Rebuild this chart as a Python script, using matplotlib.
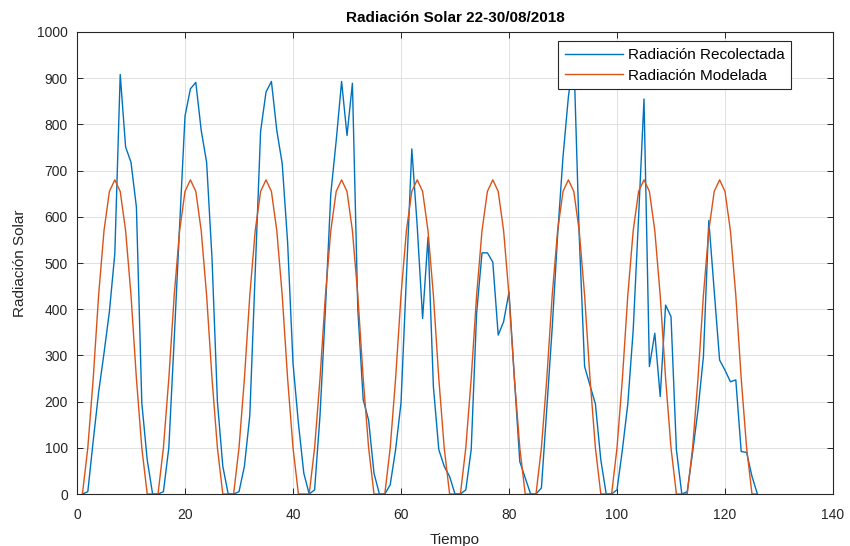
import matplotlib
matplotlib.use("Agg")
import matplotlib.pyplot as plt

# --- datos (una muestra por hora, 14 por dia) ---
tiempo = list(range(1, 127))

radiacion_recolectada = [
    0, 5, 115, 220, 305, 395, 520, 908, 751, 718, 621, 197, 74, 0,        # 22/08
    0, 5, 100, 335, 580, 818, 877, 891, 787, 718, 510, 200, 60, 0,        # 23/08
    0, 5, 60, 170, 480, 785, 870, 893, 787, 715, 545, 283, 153, 45,       # 24/08
    0, 9, 170, 400, 650, 765, 893, 776, 889, 400, 204, 160, 45, 0,        # 25/08
    0, 20, 96, 197, 470, 747, 580, 380, 556, 232, 96, 60, 38, 0,          # 26/08
    0, 9, 96, 391, 522, 522, 502, 344, 373, 437, 250, 70, 35, 0,          # 27/08
    0, 13, 185, 360, 560, 730, 860, 950, 560, 276, 235, 195, 74, 0,       # 28/08
    0, 9, 96, 195, 355, 600, 855, 276, 348, 211, 409, 384, 96, 0,         # 29/08
    5, 90, 182, 297, 592, 440, 290, 268, 243, 247, 92, 90, 38, 0,         # 30/08
]

radiacion_modelada = [
    0, 100, 250, 430, 570, 655, 680, 655, 570, 430, 250, 100, 0, 0,
    0, 100, 250, 430, 570, 655, 680, 655, 570, 430, 250, 100, 0, 0,
    0, 100, 250, 430, 570, 655, 680, 655, 570, 430, 250, 100, 0, 0,
    0, 100, 250, 430, 570, 655, 680, 655, 570, 430, 250, 100, 0, 0,
    0, 100, 250, 430, 570, 655, 680, 655, 570, 430, 250, 100, 0, 0,
    0, 100, 250, 430, 570, 655, 680, 655, 570, 430, 250, 100, 0, 0,
    0, 100, 250, 430, 570, 655, 680, 655, 570, 430, 250, 100, 0, 0,
    0, 100, 250, 430, 570, 655, 680, 655, 570, 430, 250, 100, 0, 0,
    0, 100, 250, 430, 570, 655, 680, 655, 570, 430, 250, 100, 0, 0,
]

x_ticks = [0, 20, 40, 60, 80, 100, 120, 140]
y_ticks = [0, 100, 200, 300, 400, 500, 600, 700, 800, 900, 1000]

# --- estilo tipo MATLAB ---
plt.rcParams['font.family'] = ['Liberation Sans', 'DejaVu Sans']
plt.rcParams['font.size'] = 10
gris = '#262626'

fig = plt.figure(figsize=(8.5, 5.46), dpi=100)
ax = fig.add_axes([0.0906, 0.0952, 0.8894, 0.8462])

ax.plot(tiempo, radiacion_recolectada, color='#0072BD', lw=1.0,
        label='Radiación Recolectada')
ax.plot(tiempo, radiacion_modelada, color='#D95319', lw=1.0,
        label='Radiación Modelada')

ax.set_xlim(0, 140)
ax.set_ylim(0, 1000)
ax.set_xticks(x_ticks)
ax.set_yticks(y_ticks)
ax.grid(True, color='#dcdcdc', lw=0.6)
ax.set_axisbelow(True)
ax.tick_params(direction='in', top=True, right=True, length=4,
               width=0.7, colors=gris, labelsize=10)
ax.tick_params(axis='x', pad=10)
ax.tick_params(axis='y', pad=6.5)
for s in ax.spines.values():
    s.set_color(gris)
    s.set_linewidth(0.8)

ax.set_title('Radiación Solar 22-30/08/2018', fontsize=11, fontweight='bold',
             color='black', pad=7)
ax.set_xlabel('Tiempo', fontsize=11, color=gris, labelpad=8)
ax.set_ylabel('Radiación Solar', fontsize=11, color=gris, labelpad=7)

leg = ax.legend(loc='upper right', bbox_to_anchor=(0.945, 0.98),
                borderaxespad=0, fontsize=11, handlelength=3.8,
                fancybox=False, framealpha=1, edgecolor=gris,
                borderpad=0.45, labelspacing=0.42, handletextpad=0.3)
leg.get_frame().set_linewidth(0.8)

fig.savefig('out.png', dpi=100)
